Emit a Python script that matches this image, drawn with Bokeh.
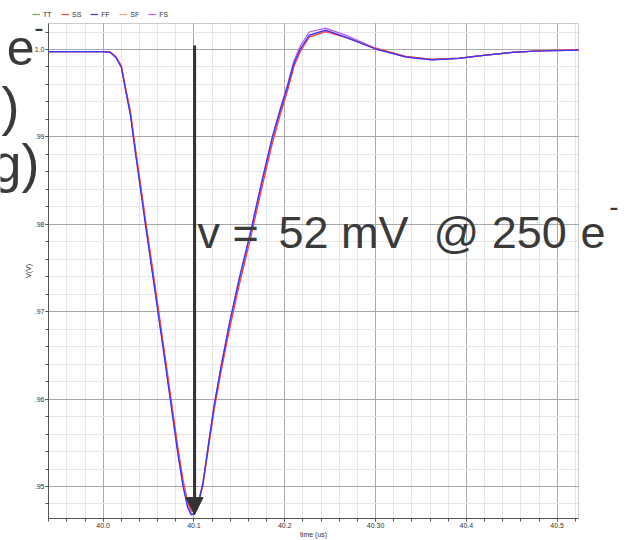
from bokeh.plotting import figure
from bokeh.models import (Range1d, FixedTicker, Label, Arrow, NormalHead, Grid,
                          Legend, LegendItem, BoxAnnotation)
from bokeh.embed import file_html
from bokeh.resources import INLINE
import numpy as np

# ---------------- data ----------------
time_us = [39.94, 40.0, 40.008, 40.014, 40.02, 40.025, 40.03, 40.035, 40.041,
           40.047, 40.054, 40.061, 40.068, 40.075, 40.082, 40.088, 40.093,
           40.097, 40.101, 40.105, 40.110, 40.116, 40.122, 40.130, 40.139,
           40.150, 40.162, 40.174, 40.186, 40.195, 40.203, 40.210, 40.217,
           40.227, 40.245, 40.267, 40.300, 40.333, 40.362, 40.392, 40.414,
           40.450, 40.480, 40.5235]

v_tt = [0.99975, 0.99975, 0.99968, 0.99915, 0.99805, 0.99530, 0.99270, 0.98880,
        0.98440, 0.97990, 0.97490, 0.96980, 0.96470, 0.95950, 0.95430, 0.95040,
        0.94800, 0.94710, 0.94720, 0.94830, 0.95050, 0.95480, 0.95900, 0.96360,
        0.96830, 0.97350, 0.97860, 0.98420, 0.98950, 0.99280, 0.99550, 0.99820,
        0.99990, 1.00150, 1.00215, 1.00140, 1.00010, 0.99920, 0.99886, 0.99900,
        0.99926, 0.99966, 0.99983, 0.99994]
v_ss = [0.99975, 0.99975, 0.99970, 0.99920, 0.99815, 0.99550, 0.99295, 0.98910,
        0.98475, 0.98030, 0.97530, 0.97020, 0.96510, 0.95990, 0.95470, 0.95075,
        0.94825, 0.94725, 0.94720, 0.94815, 0.95020, 0.95440, 0.95860, 0.96320,
        0.96790, 0.97310, 0.97820, 0.98380, 0.98910, 0.99250, 0.99525, 0.99800,
        0.99975, 1.00140, 1.00205, 1.00138, 1.00015, 0.99922, 0.99888, 0.99902,
        0.99928, 0.99968, 0.99988, 1.00000]
v_ff = [0.99975, 0.99975, 0.99966, 0.99908, 0.99795, 0.99515, 0.99250, 0.98855,
        0.98410, 0.97960, 0.97455, 0.96945, 0.96435, 0.95910, 0.95390, 0.94995,
        0.94760, 0.94675, 0.94690, 0.94810, 0.95040, 0.95480, 0.95910, 0.96380,
        0.96860, 0.97380, 0.97890, 0.98450, 0.98980, 0.99305, 0.99575, 0.99840,
        1.00005, 1.00165, 1.00222, 1.00142, 1.00005, 0.99915, 0.99882, 0.99898,
        0.99926, 0.99966, 0.99983, 0.99994]
v_sf = [0.99975, 0.99975, 0.99969, 0.99917, 0.99810, 0.99540, 0.99280, 0.98895,
        0.98455, 0.98005, 0.97505, 0.96995, 0.96485, 0.95965, 0.95445, 0.95055,
        0.94815, 0.94720, 0.94725, 0.94830, 0.95040, 0.95465, 0.95885, 0.96345,
        0.96815, 0.97335, 0.97845, 0.98405, 0.98940, 0.99270, 0.99540, 0.99812,
        0.99985, 1.00148, 1.00212, 1.00140, 1.00012, 0.99921, 0.99887, 0.99901,
        0.99927, 0.99967, 0.99984, 0.99995]
v_fs = [0.99975, 0.99975, 0.99967, 0.99912, 0.99800, 0.99525, 0.99260, 0.98865,
        0.98425, 0.97975, 0.97470, 0.96960, 0.96450, 0.95930, 0.95410, 0.95015,
        0.94775, 0.94685, 0.94695, 0.94815, 0.95050, 0.95490, 0.95920, 0.96390,
        0.96870, 0.97395, 0.97905, 0.98465, 0.98995, 0.99325, 0.99600, 0.99870,
        1.00040, 1.00200, 1.00245, 1.00165, 1.00015, 0.99912, 0.99882, 0.99898,
        0.99926, 0.99966, 0.99983, 0.99994]

series_names = ["TT", "SS", "FF", "SF", "FS"]

x_ticks = [40.0, 40.1, 40.2, 40.3, 40.4, 40.5]
x_tick_labels = ["40.0", "40.1", "40.2", "40.30", "40.4", "40.5"]
y_ticks = [0.95, 0.96, 0.97, 0.98, 0.99, 1.0]
y_tick_labels = [".95", ".96", ".97", ".98", ".99", "1.0"]

arrow_x = 40.1007
arrow_y_top = 1.00046
arrow_y_tip = 0.9468

annotation_words = ["v =", "52 mV", "@ 250", "e", "-"]

# ---------------- geometry of the plot box ----------------
FONT = "Liberation Sans"
TXT = "#3a3a3a"
W, H = 628, 540
BOX_L, BOX_R, BOX_T, BOX_B = 48, 578, 23, 518      # pixel edges of the plot box
X0, X1 = 39.9398, 40.5235                          # data at box edges
Y0, Y1 = 0.94634, 1.002975
kx = (X1 - X0) / (BOX_R - BOX_L)
ky = (Y1 - Y0) / (BOX_B - BOX_T)
XS, XE = X0 - BOX_L * kx, X1 + (W - BOX_R) * kx
YS, YE = Y0 - (H - BOX_B) * ky, Y1 + BOX_T * ky


def px_x(px):
    return XS + px * kx


def px_y(py):
    return YE - py * ky


p = figure(width=W, height=H, output_backend="svg", toolbar_location=None,
           x_range=Range1d(XS, XE), y_range=Range1d(YS, YE),
           min_border_left=0, min_border_right=0, min_border_top=0,
           min_border_bottom=0)
p.background_fill_color = "white"
p.border_fill_color = "white"
p.outline_line_color = None

minor_x = [round(v, 3) for v in np.arange(39.94, 40.53, 0.02)]
minor_y = [round(v, 4) for v in np.arange(0.948, 1.003, 0.002)]
p.xaxis.ticker = FixedTicker(ticks=x_ticks, minor_ticks=minor_x)
p.yaxis.ticker = FixedTicker(ticks=y_ticks, minor_ticks=minor_y)
p.xaxis.major_label_overrides = dict(zip(x_ticks, x_tick_labels))
p.yaxis.major_label_overrides = dict(zip(y_ticks, y_tick_labels))
p.xaxis.fixed_location = Y0
p.yaxis.fixed_location = X0
p.xaxis.bounds = (X0, X1)
p.yaxis.bounds = (Y0, Y1)

for ax in (p.xaxis[0], p.yaxis[0]):
    ax.axis_line_color = "#555555"
    ax.major_tick_line_color = "#555555"
    ax.minor_tick_line_color = "#555555"
    ax.major_tick_in = 0
    ax.minor_tick_in = 0
    ax.major_tick_out = 3
    ax.minor_tick_out = 3
    ax.major_label_text_font = FONT
    ax.major_label_text_font_size = "7px"
    ax.major_label_text_color = "#333333"
    ax.major_label_standoff = 1
    ax.axis_label_text_font = FONT
    ax.axis_label_text_font_size = "7px"
    ax.axis_label_text_font_style = "normal"
    ax.axis_label_text_color = "#333333"
    ax.axis_label_standoff = 0

p.xaxis.axis_label = "time (us)"
p.yaxis.axis_label = "V(V)"
p.yaxis.major_label_orientation = "horizontal"

has_cross = "cross_bounds" in Grid.properties()
for g, b, cb in ((p.xgrid[0], (X0, X1), (Y0, Y1)), (p.ygrid[0], (Y0, Y1), (X0, X1))):
    g.grid_line_color = "#a8a8a8"
    g.grid_line_width = 1
    g.minor_grid_line_color = "#e6e6e6"
    g.minor_grid_line_width = 1
    g.bounds = b
    if has_cross:
        g.cross_bounds = cb

if not has_cross:
    for g in (p.xgrid[0], p.ygrid[0]):
        g.visible = False
    p.segment(x0=minor_x, y0=Y0, x1=minor_x, y1=Y1, line_color="#e6e6e6")
    p.segment(x0=X0, y0=minor_y, x1=X1, y1=minor_y, line_color="#e6e6e6")
    p.segment(x0=x_ticks, y0=Y0, x1=x_ticks, y1=Y1, line_color="#a8a8a8")
    p.segment(x0=X0, y0=y_ticks, x1=X1, y1=y_ticks, line_color="#a8a8a8")

p.add_layout(BoxAnnotation(left=X0, right=X1, bottom=Y0, top=Y1, fill_alpha=0,
                           line_color="#555555", line_width=1, level="underlay"))

colors = {"TT": "#7fa35a", "SS": "#ff4040", "FF": "#3434ff",
          "SF": "#e8a47c", "FS": "#b455ff"}
values = {"TT": v_tt, "SS": v_ss, "FF": v_ff, "SF": v_sf, "FS": v_fs}
renderers = {}
for name in ["TT", "SF", "FS", "SS", "FF"]:
    renderers[name] = p.line(time_us, values[name], line_color=colors[name],
                             line_width=1.2)

legend = Legend(items=[LegendItem(label=n, renderers=[renderers[n]]) for n in series_names],
                orientation="horizontal", location=(32, H - 18),
                glyph_width=8, glyph_height=8, label_standoff=3, label_width=9,
                spacing=9, padding=1, margin=0,
                label_text_font=FONT, label_text_font_size="7px",
                label_text_color="#333333",
                border_line_color=None, background_fill_alpha=0)
p.add_layout(legend, "center")

p.add_layout(Arrow(x_start=arrow_x, y_start=arrow_y_top, x_end=arrow_x, y_end=arrow_y_tip,
                   line_width=3, line_color="#333333",
                   end=NormalHead(size=17, fill_color="#333333", line_color="#333333")))


def slide_text(px, py, txt, size, align="left"):
    p.add_layout(Label(x=px_x(px), y=px_y(py), text=txt, text_font=FONT,
                       text_font_size=size, text_color=TXT, text_align=align,
                       text_baseline="alphabetic"))


# slide text overlaid on the chart: "v = 52 mV @ 250 e⁻"
for word, xpx in zip(annotation_words[:4], [197, 278, 433, 580]):
    slide_text(xpx, 232, word, "45px")
slide_text(608.7, 205.6, annotation_words[4], "28px")

# cut-off slide text at the left edge
slide_text(34, 47, "e", "50px", "right")
slide_text(33.7, 26.6, "-", "28px")
slide_text(19, 105, ")", "54px", "right")
slide_text(39, 162, "g)", "54px", "right")

open("out.html", "w").write(file_html(p, INLINE))
